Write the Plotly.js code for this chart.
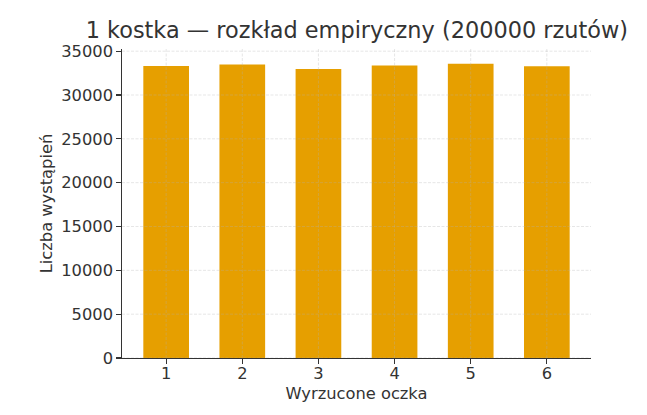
<!DOCTYPE html>
<html>
<head>
<meta charset="utf-8">
<script src="https://cdn.plot.ly/plotly-3.0.1.min.js"></script>
<style>html,body{margin:0;padding:0;background:#fff;}#chart{width:647px;height:415px;}</style>
</head>
<body>
<div id="chart"></div>
<script>
const faces = [1, 2, 3, 4, 5, 6];
const counts = [33310, 33490, 32970, 33380, 33570, 33280];
const yTicks = [0, 5000, 10000, 15000, 20000, 25000, 30000, 35000];
const titleText = "1 kostka — rozkład empiryczny (200000 rzutów)";
const xLabel = "Wyrzucone oczka";
const yLabel = "Liczba wystąpień";

const font = "DejaVu Sans, sans-serif";
const txt = "#333333";
const gridStyle = {color: "rgba(176,176,176,0.4)", width: 0.8, dash: "3px,1.5px"};

const shapes = [];
faces.forEach(f => shapes.push({type: "line", xref: "x", yref: "paper", x0: f, x1: f, y0: 0, y1: 1, layer: "above", line: gridStyle}));
yTicks.forEach(t => shapes.push({type: "line", xref: "paper", yref: "y", x0: 0, x1: 1, y0: t, y1: t, layer: "above", line: gridStyle}));

const trace = {
  type: "bar",
  x: faces,
  y: counts,
  width: 0.6,
  marker: {color: "#E69F00", line: {width: 0}},
  hoverinfo: "x+y"
};

const maxV = Math.max(...counts);
const layout = {
  width: 647, height: 415,
  margin: {l: 122, r: 56, t: 49, b: 57, pad: 0},
  paper_bgcolor: "#ffffff",
  plot_bgcolor: "#ffffff",
  font: {family: font, color: txt, size: 16},
  showlegend: false,
  title: {text: titleText, font: {family: font, size: 22.4, color: txt}, x: 0.5515, xanchor: "center", y: 0.928, yanchor: "middle"},
  xaxis: {
    range: [0.42, 6.58],
    tickvals: faces, ticktext: faces.map(String),
    showgrid: false, zeroline: false,
    showline: true, linecolor: txt, linewidth: 1.2,
    ticks: "outside", ticklen: 4.5, tickwidth: 1.1, tickcolor: txt,
    ticklabelstandoff: -4,
    tickfont: {family: font, size: 16.3, color: txt},
    title: {text: xLabel, font: {family: font, size: 16.3, color: txt}, standoff: 5},
    automargin: false
  },
  yaxis: {
    range: [0, maxV * 1.05],
    tickvals: yTicks, ticktext: yTicks.map(String),
    showgrid: false, zeroline: false,
    showline: true, linecolor: txt, linewidth: 1.2,
    ticks: "outside", ticklen: 4.5, tickwidth: 1.1, tickcolor: txt,
    tickfont: {family: font, size: 16.3, color: txt},
    title: {text: yLabel, font: {family: font, size: 16.3, color: txt}, standoff: 4},
    automargin: false
  },
  shapes: shapes
};

Plotly.newPlot("chart", [trace], layout, {displayModeBar: false, staticPlot: true});
</script>
</body>
</html>
